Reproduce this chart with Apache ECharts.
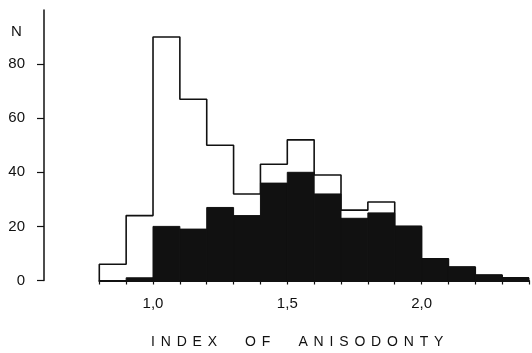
<!DOCTYPE html>
<html>
<head>
<meta charset="utf-8">
<script src="https://cdn.jsdelivr.net/npm/echarts@6/dist/echarts.min.js"></script>
<style>
html,body{margin:0;padding:0;background:#fff;}
#chart{width:532px;height:353px;}
</style>
</head>
<body>
<div id="chart"></div>
<script>
// Histogram bins (lower edges), width 0.1
var binEdges = [0.8, 0.9, 1.0, 1.1, 1.2, 1.3, 1.4, 1.5, 1.6, 1.7, 1.8, 1.9, 2.0, 2.1, 2.2, 2.3, 2.4];
// Total counts (open outline)
var totalCounts = [6, 24, 90, 67, 50, 32, 43, 52, 39, 26, 29, 20, 8, 5, 2, 1];
// Subset counts (black bars)
var filledCounts = [0, 1, 20, 19, 27, 24, 36, 40, 32, 23, 25, 20, 8, 5, 2, 1];
// Tick labels
var xTickValues = [1.0, 1.5, 2.0];
var xTickLabels = ['1,0', '1,5', '2,0'];
var yTickValues = [0, 20, 40, 60, 80];
var yName = 'N';
var xTitle = 'INDEX OF ANISODONTY';

var FONT = 'Liberation Sans';
var INK = '#111';

// step outline points
var outline = [[binEdges[0], 0]];
for (var i = 0; i < totalCounts.length; i++) {
  outline.push([binEdges[i], totalCounts[i]]);
  outline.push([binEdges[i + 1], totalCounts[i]]);
}
var barData = filledCounts.map(function (v, i) { return [binEdges[i], binEdges[i + 1], v]; });

function spaced(s) {
  return s.split(' ').map(function (w) { return w.split('').join('\u2005\u2006'); }).join('\u2003\u2003');
}

var chart = echarts.init(document.getElementById('chart'), null, {renderer: 'canvas'});
chart.setOption({
  animation: false,
  backgroundColor: '#fff',
  grid: [
    {left: 44, top: 10, bottom: 72.5, width: 1},
    {left: 99.3, top: 10, bottom: 72.5, width: 437.3}
  ],
  xAxis: [
    {gridIndex: 0, type: 'value', show: false, min: 0, max: 1},
    {
      gridIndex: 1, type: 'value', min: 0.8, max: 2.4, interval: 0.1,
      axisLine: {show: true, onZero: false, lineStyle: {color: INK, width: 2}},
      axisTick: {show: true, length: 4, lineStyle: {color: INK, width: 1.2}},
      splitLine: {show: false},
      axisLabel: {
        show: true, margin: 16, color: INK, fontFamily: FONT, fontSize: 15,
        showMinLabel: true, showMaxLabel: true,
        formatter: function (v) {
          for (var k = 0; k < xTickValues.length; k++) {
            if (Math.abs(v - xTickValues[k]) < 1e-6) return xTickLabels[k];
          }
          return '';
        }
      }
    }
  ],
  yAxis: [
    {
      gridIndex: 0, type: 'value', min: 0, max: 100, interval: 20,
      axisLine: {show: true, lineStyle: {color: INK, width: 1.5}},
      axisTick: {show: true, length: 7, lineStyle: {color: INK, width: 1.2},
        customValues: yTickValues},
      splitLine: {show: false},
      axisLabel: {
        show: true, margin: 19, color: INK, fontFamily: FONT, fontSize: 15,
        customValues: yTickValues,
        formatter: function (v) { return yTickValues.indexOf(v) >= 0 ? String(v) : ''; }
      }
    },
    {gridIndex: 1, type: 'value', min: 0, max: 100, show: false}
  ],
  graphic: [
    {type: 'text', left: 11, top: 24, style: {text: yName, fontFamily: FONT, fontSize: 15, fill: INK}},
    {type: 'text', left: 151, top: 335,
      style: {text: spaced(xTitle), fontFamily: FONT, fontSize: 14, fill: INK}}
  ],
  series: [
    {
      type: 'line', xAxisIndex: 1, yAxisIndex: 1, data: outline,
      showSymbol: false, symbol: 'none',
      lineStyle: {color: INK, width: 1.6}, z: 2
    },
    {
      type: 'custom', xAxisIndex: 1, yAxisIndex: 1, data: barData, z: 3,
      renderItem: function (params, api) {
        var p0 = api.coord([api.value(0), 0]);
        var p1 = api.coord([api.value(1), api.value(2)]);
        return {
          type: 'rect',
          shape: {x: p0[0], y: p1[1], width: p1[0] - p0[0], height: p0[1] - p1[1]},
          style: {fill: INK, stroke: INK, lineWidth: 1}
        };
      }
    }
  ]
});
</script>
</body>
</html>
